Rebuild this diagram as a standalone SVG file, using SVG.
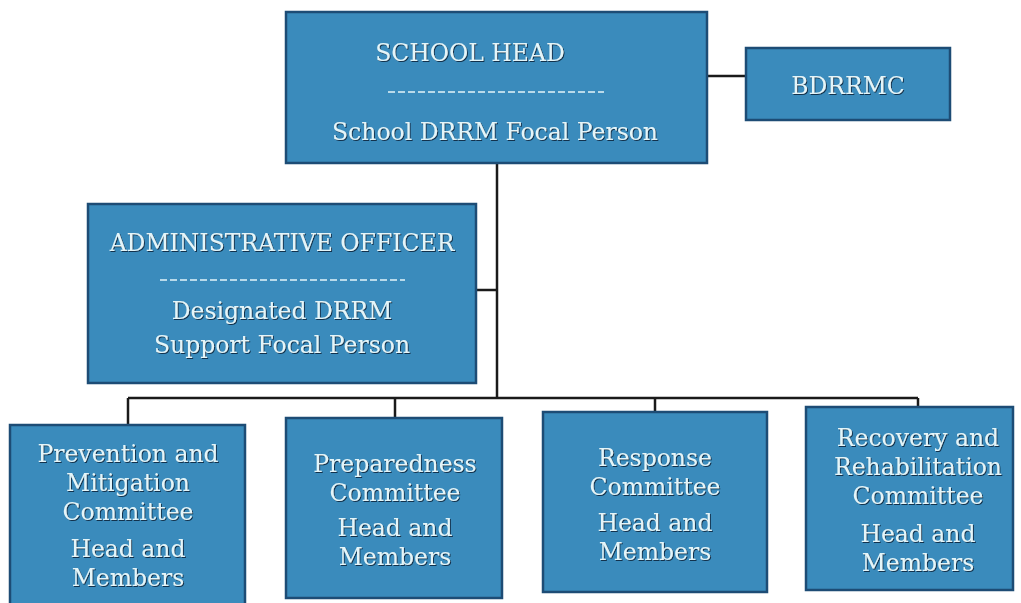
<svg xmlns="http://www.w3.org/2000/svg" width="1021" height="603" viewBox="0 0 1021 603">
<defs>
<filter id="sh" x="-5%" y="-20%" width="110%" height="140%">
<feDropShadow dx="1" dy="1" stdDeviation="0.6" flood-color="#0d2a40" flood-opacity="0.9"/>
</filter>
</defs>
<style>
.box{fill:#3a8bbc;stroke:#1d4c75;stroke-width:2.5}
.t{font-family:"DejaVu Serif","Liberation Serif",serif;font-size:23.5px;fill:#e4f5f9;text-anchor:middle;filter:url(#sh)}
.dash{stroke:#e4f5f9;stroke-width:1.3;stroke-dasharray:7 3}
.c{stroke:#1a1a1a;stroke-width:2.5;fill:none}
</style>
<rect width="1021" height="603" fill="#ffffff"/>
<g id="connectors">
<line class="c" x1="707" y1="76" x2="746" y2="76"/>
<line class="c" x1="497" y1="163" x2="497" y2="398"/>
<line class="c" x1="476" y1="290" x2="497" y2="290"/>
<line class="c" x1="128" y1="398" x2="918" y2="398"/>
<line class="c" x1="128" y1="398" x2="128" y2="425"/>
<line class="c" x1="395" y1="398" x2="395" y2="418"/>
<line class="c" x1="655" y1="398" x2="655" y2="412"/>
<line class="c" x1="918" y1="398" x2="918" y2="407"/>
</g>
<g id="school-head">
<rect class="box" x="286" y="12" width="421" height="151"/>
<text class="t" x="470" y="61">SCHOOL HEAD</text>
<line class="dash" x1="388" y1="92" x2="604" y2="92"/>
<text class="t" x="495" y="140">School DRRM Focal Person</text>
</g>
<g id="bdrrmc">
<rect class="box" x="746" y="48" width="204" height="72"/>
<text class="t" x="848" y="94">BDRRMC</text>
</g>
<g id="admin-officer">
<rect class="box" x="88" y="204" width="388" height="179"/>
<text class="t" x="282" y="251">ADMINISTRATIVE OFFICER</text>
<line class="dash" x1="160" y1="280" x2="405" y2="280"/>
<text class="t" x="282" y="319">Designated DRRM</text>
<text class="t" x="282" y="353">Support Focal Person</text>
</g>
<g id="prevention">
<rect class="box" x="10" y="425" width="235" height="180"/>
<text class="t" x="128" y="462">Prevention and</text>
<text class="t" x="128" y="491">Mitigation</text>
<text class="t" x="128" y="520">Committee</text>
<text class="t" x="128" y="557">Head and</text>
<text class="t" x="128" y="586">Members</text>
</g>
<g id="preparedness">
<rect class="box" x="286" y="418" width="216" height="180"/>
<text class="t" x="395" y="472">Preparedness</text>
<text class="t" x="395" y="501">Committee</text>
<text class="t" x="395" y="536">Head and</text>
<text class="t" x="395" y="565">Members</text>
</g>
<g id="response">
<rect class="box" x="543" y="412" width="224" height="180"/>
<text class="t" x="655" y="466">Response</text>
<text class="t" x="655" y="495">Committee</text>
<text class="t" x="655" y="531">Head and</text>
<text class="t" x="655" y="560">Members</text>
</g>
<g id="recovery">
<rect class="box" x="806" y="407" width="207" height="183"/>
<text class="t" x="918" y="446">Recovery and</text>
<text class="t" x="918" y="475">Rehabilitation</text>
<text class="t" x="918" y="504">Committee</text>
<text class="t" x="918" y="542">Head and</text>
<text class="t" x="918" y="571">Members</text>
</g>
</svg>
